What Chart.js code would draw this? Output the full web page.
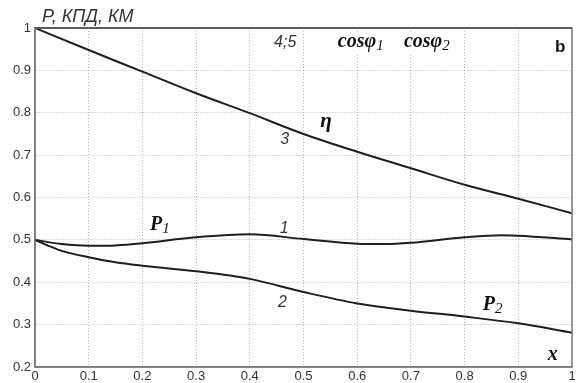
<!DOCTYPE html>
<html>
<head>
<meta charset="utf-8">
<script src="https://cdn.jsdelivr.net/npm/chart.js@4.4.1/dist/chart.umd.min.js"></script>
<style>
  html, body { margin: 0; padding: 0; background: #fff; }
  #c { display: block; }
</style>
</head>
<body>
<canvas id="c" width="578" height="383"></canvas>
<script>
// Relative load x on the horizontal axis
const xTicks = [0, 0.1, 0.2, 0.3, 0.4, 0.5, 0.6, 0.7, 0.8, 0.9, 1];
const yTicks = [0.2, 0.3, 0.4, 0.5, 0.6, 0.7, 0.8, 0.9, 1];

// Curve 3: efficiency (КПД, η)
const etaX = [0, 0.1, 0.2, 0.3, 0.4, 0.5, 0.6, 0.7, 0.8, 0.9, 1];
const etaY = [1.0, 0.948, 0.897, 0.846, 0.799, 0.750, 0.708, 0.669, 0.630, 0.597, 0.563];

// Curve 1: power P1
const p1X = [0, 0.05, 0.1, 0.15, 0.2, 0.3, 0.4, 0.5, 0.6, 0.65, 0.7, 0.8, 0.87, 0.9, 1];
const p1Y = [0.5, 0.490, 0.486, 0.487, 0.492, 0.506, 0.513, 0.502, 0.491, 0.490, 0.493, 0.506, 0.511, 0.510, 0.501];

// Curve 2: power P2
const p2X = [0, 0.025, 0.05, 0.1, 0.15, 0.2, 0.3, 0.4, 0.5, 0.6, 0.7, 0.8, 0.9, 1];
const p2Y = [0.5, 0.486, 0.474, 0.459, 0.447, 0.439, 0.426, 0.408, 0.377, 0.350, 0.333, 0.319, 0.303, 0.281];

const pts = (xs, ys) => xs.map((x, i) => ({ x, y: ys[i] }));

const lineStyle = {
  borderColor: '#1e1e1e',
  borderWidth: 2,
  pointRadius: 0,
  fill: false,
  cubicInterpolationMode: 'monotone'
};

const SANS = '"Liberation Sans", Arial, sans-serif';
const SERIF = '"Liberation Serif", "Times New Roman", serif';

// Curve annotations, anchored in data coordinates
const curveLabels = [
  { text: '4;5', x: 0.466, y: 0.955, font: 'italic 16px ' + SANS, align: 'center', color: '#333' },
  { text: 'cosφ', sub: '1', x: 0.564, y: 0.955, font: 'bold italic 20px ' + SERIF, subFont: 'italic 15px ' + SERIF, align: 'left', color: '#111', clear: true },
  { text: 'cosφ', sub: '2', x: 0.687, y: 0.955, font: 'bold italic 20px ' + SERIF, subFont: 'italic 15px ' + SERIF, align: 'left', color: '#111', clear: true },
  { text: 'b', x: 0.978, y: 0.943, font: 'bold 17px ' + SANS, align: 'center', color: '#111' },
  { text: 'η', x: 0.531, y: 0.766, font: 'bold italic 21px ' + SERIF, align: 'left', color: '#111' },
  { text: '3', x: 0.465, y: 0.726, font: 'italic 16px ' + SANS, align: 'center', color: '#333' },
  { text: 'P', sub: '1', x: 0.214, y: 0.523, font: 'bold italic 20px ' + SERIF, subFont: 'italic 15px ' + SERIF, align: 'left', color: '#111' },
  { text: '1', x: 0.464, y: 0.516, font: 'italic 16px ' + SANS, align: 'center', color: '#333' },
  { text: '2', x: 0.461, y: 0.342, font: 'italic 16px ' + SANS, align: 'center', color: '#333' },
  { text: 'P', sub: '2', x: 0.834, y: 0.335, font: 'bold italic 20px ' + SERIF, subFont: 'italic 15px ' + SERIF, align: 'left', color: '#111' },
  { text: 'x', x: 0.955, y: 0.216, font: 'bold italic 20px ' + SERIF, align: 'left', color: '#111' }
];

const axisTitle = 'P, КПД, КМ';

const frameAndLabels = {
  id: 'frameAndLabels',
  afterDatasetsDraw(chart) {
    const { ctx, chartArea: a, scales } = chart;
    ctx.save();
    // box around the plot area
    ctx.strokeStyle = '#7a7a7a';
    ctx.lineWidth = 1.5;
    ctx.strokeRect(a.left, a.top, a.right - a.left, a.bottom - a.top);
    ctx.strokeStyle = '#5e5e5e';
    ctx.lineWidth = 2;
    ctx.beginPath();
    ctx.moveTo(a.left, a.top);
    ctx.lineTo(a.right, a.top);
    ctx.stroke();

    ctx.textBaseline = 'alphabetic';
    for (const l of curveLabels) {
      const px = scales.x.getPixelForValue(l.x);
      const py = scales.y.getPixelForValue(l.y);
      ctx.font = l.font;
      const w = ctx.measureText(l.text).width;
      let subW = 0;
      if (l.sub) { ctx.font = l.subFont; subW = ctx.measureText(l.sub).width; }
      const total = w + subW;
      let left = l.align === 'center' ? px - total / 2 : px;
      if (l.clear) {
        ctx.fillStyle = '#fff';
        ctx.fillRect(left - 2, py - 15, total + 4, 21);
      }
      ctx.fillStyle = l.color;
      ctx.textAlign = 'left';
      ctx.font = l.font;
      ctx.fillText(l.text, left, py);
      if (l.sub) {
        ctx.font = l.subFont;
        ctx.fillText(l.sub, left + w, py + 3);
      }
    }

    // vertical axis caption
    ctx.font = 'italic 18px ' + SANS;
    ctx.fillStyle = '#333';
    ctx.textAlign = 'left';
    ctx.fillText(axisTitle, a.left + 7, a.top - 6);
    ctx.restore();
  }
};

const tickFont = { family: SANS, size: 13 };

new Chart(document.getElementById('c'), {
  type: 'line',
  data: {
    datasets: [
      { label: 'η', data: pts(etaX, etaY), ...lineStyle },
      { label: 'P1', data: pts(p1X, p1Y), ...lineStyle },
      { label: 'P2', data: pts(p2X, p2Y), ...lineStyle }
    ]
  },
  options: {
    responsive: false,
    animation: false,
    devicePixelRatio: 1,
    layout: { padding: { top: 28, right: 6, left: 0, bottom: 0 } },
    plugins: { legend: { display: false }, tooltip: { enabled: false }, title: { display: false } },
    scales: {
      x: {
        type: 'linear',
        min: 0, max: 1,
        afterFit: s => { s.height = 16; },
        afterBuildTicks: s => { s.ticks = xTicks.map(v => ({ value: v })); },
        ticks: {
          font: tickFont, color: '#333', padding: 2, maxRotation: 0,
          callback: v => (v === 0 || v === 1) ? String(v) : v.toFixed(1)
        },
        grid: { color: '#b0b0b0', lineWidth: 1, drawTicks: false },
        border: { display: true, color: '#7a7a7a', width: 1.5, dash: [1, 2] }
      },
      y: {
        type: 'linear',
        min: 0.2, max: 1,
        afterFit: s => { s.width = 35; },
        afterBuildTicks: s => { s.ticks = yTicks.map(v => ({ value: v })); },
        ticks: {
          font: tickFont, color: '#333', padding: 4,
          callback: v => v === 1 ? '1' : v.toFixed(1)
        },
        grid: { color: '#b0b0b0', lineWidth: 1, drawTicks: false },
        border: { display: true, color: '#7a7a7a', width: 1.5, dash: [1, 2] }
      }
    }
  },
  plugins: [frameAndLabels]
});
</script>
</body>
</html>
